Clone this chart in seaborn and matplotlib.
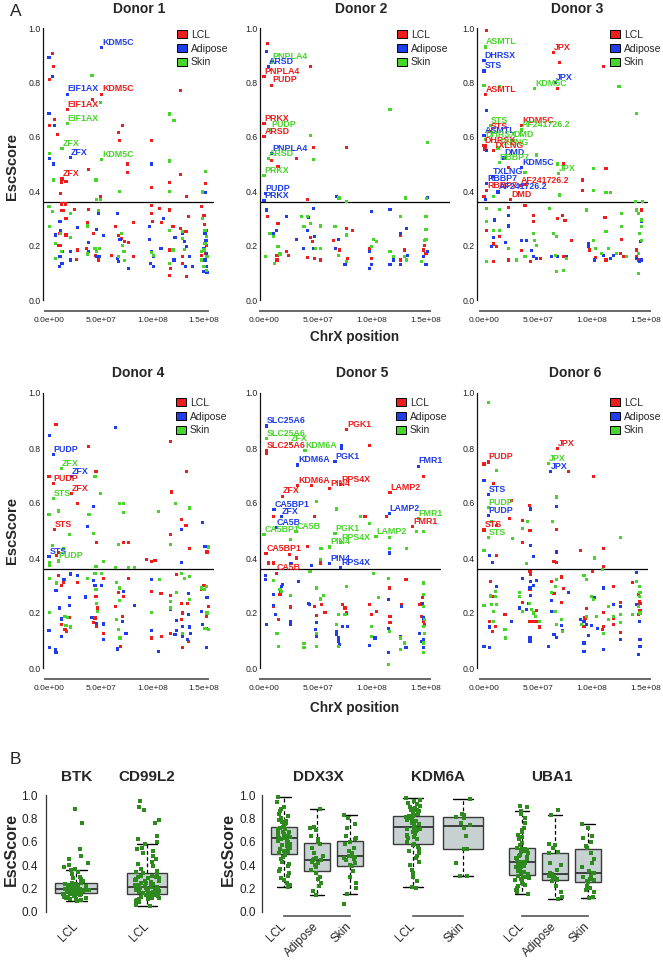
import numpy as np
import pandas as pd
import matplotlib
matplotlib.use("Agg")
import matplotlib.pyplot as plt
import seaborn as sns
from matplotlib.patches import Patch

# ---------------- DATA (panel A: position in Mb, EscScore) ----------------
TISSUES = ["LCL", "Adipose", "Skin"]
DONORS = ["Donor 1", "Donor 2", "Donor 3", "Donor 4", "Donor 5", "Donor 6"]
XTICKS_MB = [0, 50, 100, 150]
XTICK_LABELS = ["0.0e+00", "5.0e+07", "1.0e+08", "1.5e+08"]
YTICKS = [0.0, 0.2, 0.4, 0.6, 0.8, 1.0]
YTICK_LABELS = ["0.0", "0.2", "0.4", "0.6", "0.8", "1.0"]
THRESHOLD = 0.36

D1_LCL = [(3.5,.907),(4,.858),(0.3,.81),(5,.665),(0.3,.642),(8,.607),(12,.431),(10.7,.39),(16.5,.437),(42,.738),(38,.48),(50,.382),(67,.616),(71,.642),(68,.585),(76,.5),(76,.47),(99,.585),(99,.413),(117,.433),(127,.77),(127,.461),(133,.38),(151.5,.427),
          (12,.353),(12,.328),(14,.328),(16,.353),(16.5,.30),(10.6,.245),(9.4,.202),(11,.202),(13,.178),(6,.153),(16.5,.239),(25,.333),(27,.15),(27.4,.184),(37,.286),(38,.333),(36.5,.19),(43.5,.245),(48,.147),(45,.165),(60.6,.165),(64,.27),(67,.236),(70,.227),(73.5,.214),(77,.21),(81.6,.284),(82,.159),(99,.346),(99,.319),(100,.288),(107,.337),(109,.284),(117,.331),(116.5,.184),(118,.116),(117,.09),(120,.27),(127.7,.263),(129,.159),(129,.135),(132.6,.251),(133,.086),(135,.306),(148,.343),(150,.312),(150.6,.276),(152,.257),(152.6,.202),(151.6,.172),(150,.147),(147.7,.165)]
D1_ADI = [(0,.892),(3.5,.822),(0,.685),(5,.642),(0.3,.52),(4,.5),(99,.5),(151.5,.395),
          (10.6,.288),(11,.257),(6,.239),(10.6,.159),(10,.123),(12.6,.135),(21,.147),(21,.178),(27.4,.267),(38,.212),(38,.178),(46,.26),(48,.319),(46,.159),(48.7,.159),(52.6,.236),(66.5,.319),(68.7,.223),(66,.153),(67,.141),(76.8,.116),(97.7,.27),(97.7,.223),(99,.178),(101,.159),(98,.135),(101,.123),(110.6,.30),(108.4,.19),(122,.23),(121,.147),(129,.245),(131,.214),(133,.196),(136,.159),(139,.123),(132,.123),(151,.245),(152,.22),(150,.19),(152.6,.172),(151.6,.147),(152.6,.123),(150,.104),(153,.10)]
D1_SKN = [(41.6,.827),(50,.725),(0.3,.54),(4,.441),(45.5,.441),(46,.37),(50,.371),(68,.398),(117,.684),(121,.66),(117,.511),(117,.398),(148.7,.397),(151.5,.472),
          (0,.343),(0.3,.27),(3.5,.325),(6,.208),(6,.153),(11,.245),(12,.178),(21,.319),(21,.23),(37,.272),(37,.169),(44.5,.19),(46,.178),(48,.328),(49,.19),(67,.159),(70,.245),(71,.202),(72.6,.178),(73.5,.145),(99,.174),(101,.162),(117,.257),(117,.135),(120,.184),(129,.251),(129,.227),(131,.186),(148.7,.30),(151,.257),(152.6,.235),(151,.208),(150,.184),(153,.159),(147.7,.147),(150,.123),(152.6,.11),(147.7,.178)]
D1_LABELS = [("KDM5C","Adipose",51,.929),("EIF1AX","Adipose",17.7,.757),("KDM5C","LCL",51,.757),("EIF1AX","LCL",17.7,.699),("EIF1AX","Skin",17.7,.65),("ZFX","Skin",12.6,.556),("ZFX","Adipose",21,.523),("KDM5C","Skin",51,.515),("ZFX","LCL",12.6,.445)]

D2_LCL = [(3,.944),(43,.858),(46,.56),(30,.52),(13,.49),(7,.512),(40,.37),(76.5,.56),
          (3,.306),(13,.28),(12,.165),(12,.147),(21,.178),(22.6,.165),(40,.157),(45,.214),(43,.23),(47,.153),(52,.147),(64,.22),(70,.184),(76.5,.263),(82,.254),(77,.153),(98,.19),(99.7,.153),(126,.239),(126,.147),(130.5,.184),(148,.184),(150,.172),(149,.202)]
D2_ADI = [(2.5,.913),(67,.38),(151,.378),
          (2.5,.331),(8.6,.245),(11.7,.257),(21,.306),(30,.223),(36.4,.19),(40,.257),(41,.304),(45.7,.337),(47,.233),(46,.19),(66,.19),(69,.223),(75,.131),(97.5,.178),(99.7,.325),(97.5,.116),(99.7,.132),(116.7,.333),(116.7,.129),(120,.147),(126,.129),(126,.245),(132,.263),(132.7,.162),(148,.159),(150,.129),(150.6,.306),(151,.178)]
D2_SKN = [(43,.604),(45.7,.518),(116.7,.702),(151,.58),(69.4,.375),(76,.362),(131,.375),(150.6,.374),
          (1,.159),(5.6,.245),(8.6,.233),(10,.135),(13,.196),(14.8,.169),(34.9,.306),(37,.27),(40,.306),(43,.28),(48,.19),(52,.19),(52.5,.272),(65.7,.27),(69,.165),(76,.239),(76.5,.141),(99.7,.196),(101,.223),(104,.214),(116.7,.178),(120,.159),(126,.306),(130.5,.159),(132,.147),(146,.141),(150,.306),(150,.26),(150,.223),(149,.218)]
D2_LABELS = [("PNPLA4","Skin",7,.875),("ARSD","Adipose",4,.858),("PNPLA4","LCL",0,.822),("PUDP","LCL",7,.79),("PRKX","LCL",0,.648),("PUDP","Skin",6,.627),("ARSD","LCL",0,.60),("PNPLA4","Adipose",7,.539),("ARSD","Skin",4,.52),("PRKX","Skin",0,.457),("PUDP","Adipose",1,.392),("PRKX","Adipose",0,.365)]

D3_LCL = [(2.5,.99),(70,.873),(68,.778),(111,.858),(74,.5),(113,.483),(91,.441),(91,.404),(38,.425),(22.5,.487),(0.9,.567),(0.9,.555),(0,.38),
          (2.5,.257),(9,.206),(11.7,.196),(14,.233),(22.5,.34),(22.5,.147),(8.6,.141),(35,.181),(38,.349),(45.7,.288),(46,.312),(43,.141),(52,.153),(68,.30),(73,.312),(75,.292),(74,.159),(81,.22),(97.5,.184),(103,.157),(112,.304),(113,.147),(126,.172),(127.5,.223),(129,.159),(146,.331),(141,.159),(143,.147),(141,.184)]
D3_ADI = [(2.5,.698),(2.5,.551),(1,.368),
          (10,.294),(9,.23),(7,.196),(22.5,.312),(22.5,.272),(20,.211),(35,.22),(39.5,.22),(44,.181),(45.7,.159),(49,.153),(62.6,.159),(68,.159),(76.5,.159),(96.6,.208),(96.6,.198),(102,.147),(111,.162),(117,.153),(120,.162),(141,.153),(144,.141),(146,.147),(146,.288),(145,.214)]
D3_SKN = [(0,.787),(14,.786),(125,.786),(141,.686),(101,.483),(101,.402),(113,.395),(117,.395),(70,.386),(8.6,.38),(27,.586),(140,.362),(147,.362),(49,.533),(38,.469),(68,.5),
          (2,.337),(2.5,.288),(8.6,.257),(14,.333),(14,.257),(2.5,.141),(22.5,.19),(30,.147),(38,.159),(45.7,.245),(47,.22),(49,.202),(61,.337),(64,.245),(67,.233),(66.6,.165),(67,.104),(74,.11),(76,.153),(95,.331),(101,.22),(103,.19),(109,.172),(113,.251),(115,.19),(123,.172),(127.5,.319),(127.5,.27),(132,.159),(141,.331),(142.9,.319),(146,.294),(144,.245),(143,.172),(143,.098),(146,.27),(146,.22)]
D3_LABELS = [("ASMTL","Skin",1,.93),("DHRSX","Adipose",0,.88),("STS","Adipose",0,.842),("JPX","LCL",64,.909),("JPX","Adipose",66,.80),("KDM5C","Skin",47,.777),("ASMTL","LCL",1,.755),("STS","Skin",6,.64),("KDM5C","LCL",35,.642),("AF241726.2","Skin",35,.625),("STS","LCL",5.6,.62),("ASMTL","Adipose",0,.604),("DHRSX","Skin",1,.589),("DMD","Skin",27,.588),("DHRSX","LCL",0,.569),("TXLNG","Skin",13,.559),("TXLNG","LCL",8.6,.55),("DMD","Adipose",18.5,.522),("RBBP7","Skin",14,.504),("KDM5C","Adipose",35,.486),("JPX","Skin",69,.466),("TXLNG","Adipose",8,.455),("RBBP7","Adipose",2.5,.428),("AF241726.2","LCL",34,.42),("RBBP7","LCL",2.5,.403),("AF241726.2","Adipose",13,.397),("DMD","LCL",24.7,.37)]

D4_LCL = [(6.8,.885),(0,.695),(38,.806),(45.5,.713),(27.4,.598),(46,.455),(72,.455),(77,.457),(94.5,.394),(99,.388),(102.6,.391),(117.7,.824),(118.7,.64),(117.7,.485),(128.4,.539),(132.6,.518),(133,.715),(135.8,.434),(153,.422),(9,.42),(7.4,.408),
          (9,.336),(14.5,.321),(12,.30),(14,.312),(27.4,.312),(12,.158),(15.5,.139),(17,.133),(20,.185),(45.5,.26),(46,.236),(46.8,.218),(44.5,.182),(43.5,.164),(46,.152),(53,.125),(53,.327),(64,.224),(67,.273),(72,.26),(71,.188),(69,.079),(77,.327),(99,.279),(99,.109),(108.4,.27),(109,.113),(117.7,.263),(117.7,.127),(123,.339),(128.4,.236),(129.4,.2),(128.4,.176),(129.4,.073),(134,.236),(135,.097),(147.7,.287),(150,.30),(154,.224),(152.6,.188)]
D4_ADI = [(0.3,.845),(37,.515),(43.5,.588),(64,.873),(128.4,.503),(128.4,.384),(149,.53),(151,.442),
          (0,.136),(0.3,.075),(6,.067),(6.8,.055),(6.8,.282),(10,.218),(12,.178),(12,.115),(14,.321),(21,.342),(20,.255),(20,.228),(27.4,.336),(35,.258),(43,.319),(44.5,.30),(51,.30),(41,.185),(46,.161),(53,.16),(53,.103),(66,.069),(72,.279),(74.5,.127),(71,.17),(83,.228),(99,.321),(99,.136),(105.8,.061),(117.7,.212),(123,.173),(123,.137),(122,.121),(129.4,.115),(129.4,.152),(135,.27),(135,.194),(135.8,.149),(137,.127),(134,.103),(147.7,.206),(149,.158),(152.6,.145),(153,.255),(152.6,.076)]
D4_SKN = [(0,.558),(3.5,.447),(9,.571),(20,.485),(14,.436),(38.7,.558),(43,.488),(44.5,.695),(50,.633),(68,.598),(72,.598),(72,.566),(67,.448),(52.6,.388),(45.5,.37),(64,.366),(77,.366),(83,.366),(105.8,.57),(122.6,.598),(117.7,.448),(135.8,.582),(154,.44),(0.3,.373),(0.3,.384),
          (0.3,.327),(0.3,.202),(7.4,.309),(15.5,.188),(17.7,.185),(16.5,.154),(21,.149),(37,.327),(44.5,.345),(45.5,.285),(46,.236),(46.8,.206),(51,.345),(65.5,.312),(68,.291),(68,.246),(65.5,.176),(67,.139),(68.7,.109),(99,.202),(107,.321),(117.7,.242),(117.7,.218),(123,.273),(128.4,.345),(131.6,.324),(135.8,.333),(129.4,.127),(135.8,.248),(147.7,.291),(150,.285),(152.6,.297),(153,.2),(151,.145),(154,.139)]
D4_LABELS = [("PUDP","Adipose",4,.775),("ZFX","Skin",12,.725),("ZFX","Adipose",22,.695),("PUDP","LCL",4,.67),("ZFX","LCL",22,.634),("STS","Skin",4,.617),("STS","LCL",5,.504),("STS","Adipose",0,.406),("PUDP","Skin",9,.389)]

D5_LCL = [(2.5,.782),(9,.552),(16,.552),(30,.40),(40,.442),(47,.552),(52,.382),(97.5,.808),(93.5,.552),(113.6,.552),(148,.695),(24,.412),(8.6,.382),(4,.382),(44,.664),
          (14.8,.267),(15.4,.276),(8.6,.224),(13.5,.176),(24.7,.222),(47,.224),(48.8,.19),(53,.23),(56.5,.202),(73,.23),(75,.218),(76.5,.2),(98,.23),(99.7,.194),(104,.206),(116,.291),(116.7,.188),(116.7,.164),(127.5,.23),(131.5,.321),(144.4,.23),(146,.236),(147,.255),(146,.188),(148,.17),(149,.158)]
D5_ADI = [(72,.808),(72,.80),(116,.418),(25,.38),(44,.373),
          (2.5,.158),(8.6,.267),(9,.228),(11,.194),(16,.297),(17,.303),(24.7,.17),(24.7,.158),(32,.315),(41,.234),(42,.23),(48.8,.166),(48,.139),(48.8,.115),(67.3,.133),(69,.109),(70,.085),(69,.097),(67.3,.121),(73,.152),(77,.152),(98,.081),(102.8,.109),(115,.145),(115,.055),(115,.248),(126,.115),(127.5,.224),(131.5,.073),(144,.127),(148,.103),(146,.097),(148,.073),(148,.182),(147,.236),(1.8,.336),(1.8,.321)]
D5_SKN = [(48.8,.606),(67.3,.578),(52.8,.436),(89,.552),(98,.527),(132,.433),(116,.476),(116,.433),(141,.497),(148,.497),(24.7,.467),(52.5,.394),
          (9,.319),(14.8,.285),(16,.279),(12,.127),(13.5,.079),(24.7,.263),(37,.088),(37,.073),(48.8,.079),(48.8,.127),(48.8,.291),(52.5,.251),(55.5,.263),(67.3,.158),(69,.194),(75,.194),(76.5,.297),(69,.079),(99.7,.152),(99.7,.115),(101,.345),(106,.255),(115,.327),(116,.133),(115,.012),(126,.109),(130.5,.091),(126,.067),(148,.309),(148,.267),(147.5,.224),(149,.176),(148,.152),(149,.127),(147.5,.091),(148,.055),(42.6,.352)]
D5_LABELS = [("SLC25A6","Adipose",2.5,.88),("SLC25A6","Skin",2.5,.834),("ZFX","Skin",24.7,.817),("SLC25A6","LCL",2.5,.789),("KDM6A","Skin",38,.791),("PGK1","LCL",76.5,.868),("PGK1","Adipose",65.7,.75),("KDM6A","Adipose",31,.738),("FMR1","Adipose",143,.734),("KDM6A","LCL",31,.663),("RPS4X","LCL",71,.668),("PIN4","LCL",61,.652),("ZFX","LCL",17.3,.625),("LAMP2","LCL",116.7,.639),("CA5BP1","Adipose",9.3,.576),("ZFX","Adipose",16.4,.552),("LAMP2","Adipose",116,.561),("FMR1","Skin",143,.544),("CA5B","Adipose",11.7,.511),("FMR1","LCL",137.7,.513),("CA5BP1","Skin",0,.485),("CA5B","Skin",29.6,.496),("PGK1","Skin",65.7,.49),("RPS4X","Skin",71,.455),("LAMP2","Skin",103.7,.479),("PIN4","Skin",61,.44),("CA5BP1","LCL",1.9,.415),("PIN4","Adipose",61,.38),("RPS4X","Adipose",71,.365),("CA5B","LCL",11.7,.345)]

D6_LCL = [(0,.742),(9,.67),(25.6,.608),(24,.543),(36,.536),(42.6,.50),(42,.591),(36,.457),(67.3,.503),(64.8,.388),(67.3,.384),(89,.428),(101,.695),(110.5,.433),(110.5,.37),(11.7,.408),(78,.713),(11.7,.519),
          (6,.313),(9,.26),(5,.17),(11,.152),(8,.133),(19.4,.194),(36,.239),(42.6,.352),(43,.339),(42.6,.285),(42,.234),(42.6,.17),(46,.17),(48.8,.21),(48.8,.17),(51,.149),(62.6,.315),(64.8,.27),(72,.331),(74,.288),(72,.239),(95,.215),(93.5,.182),(92.6,.152),(100.6,.35),(110.5,.203),(110.5,.152),(110,.139),(119.7,.295),(120,.182),(120,.158),(126,.239),(126,.13),(137.6,.312),(143,.267),(144,.242),(144.4,.236),(144.4,.21),(143,.194)]
D6_ADI = [(0,.682),(5,.41),(8,.384),(43,.578),(43,.447),(46,.404),(67.3,.588),(67.3,.422),
          (0,.079),(5,.073),(5,.149),(11.7,.297),(25.6,.17),(36,.327),(32.7,.218),(39.5,.212),(41,.236),(43,.315),(42.6,.291),(43,.263),(42.6,.109),(42.6,.097),(46,.30),(48.8,.318),(60,.079),(62.6,.245),(62.6,.206),(64.8,.121),(67.3,.112),(72,.154),(73,.137),(78,.273),(89.5,.176),(92.6,.17),(95,.158),(92.6,.091),(92.6,.061),(96.6,.118),(99.7,.154),(102,.255),(105,.145),(110.5,.291),(110.5,.067),(120,.23),(126,.224),(126.5,.103),(141,.348),(141,.23),(144,.17),(144.4,.103),(144.4,.079),(143,.048)]
D6_SKN = [(4,.964),(11.7,.719),(7,.533),(0,.427),(26.5,.47),(40,.533),(36,.506),(39.5,.38),(63.5,.533),(67.3,.622),(102,.40),(110,.358),(126,.473),
          (0,.227),(6,.262),(7,.23),(8.6,.206),(9,.17),(11,.279),(11,.26),(11.7,.23),(19.4,.139),(20,.109),(32.7,.276),(33,.26),(36,.206),(42,.236),(44,.212),(46,.2),(48,.188),(51,.17),(62.6,.276),(66.6,.295),(67.3,.321),(65.7,.206),(67.3,.158),(72,.176),(73,.133),(92.6,.336),(95,.321),(90.5,.158),(95,.188),(99.7,.261),(101,.248),(104,.188),(110.5,.127),(115,.224),(115,.176),(120,.188),(126,.194),(126,.164),(137.6,.193),(141,.315),(143,.224),(144,.297),(144.4,.273),(144.4,.2),(144,.261)]
D6_LABELS = [("JPX","LCL",68,.799),("PUDP","LCL",4,.749),("JPX","Skin",59.6,.743),("JPX","Adipose",61.7,.713),("STS","Adipose",4,.632),("PUDP","Skin",4,.583),("PUDP","Adipose",4,.553),("STS","LCL",0,.502),("STS","Skin",4,.475)]

# ---------------- DATA (panel B: EscScore per gene / tissue) ----------------
B_GENES = ["BTK", "CD99L2", "DDX3X", "KDM6A", "UBA1"]
BTK_LCL = [.095,.10,.105,.11,.115,.12,.12,.125,.13,.135,.14,.14,.145,.15,.15,.155,.155,.158,
           .16,.162,.165,.168,.17,.172,.175,.175,.178,.18,.182,.184,.186,.188,.19,.19,.191,.192,
           .195,.198,.20,.203,.205,.208,.21,.212,.215,.218,.22,.222,.225,.228,.23,.232,.234,.235,
           .24,.245,.25,.26,.27,.28,.29,.30,.32,.34,.357,.37,.38,.40,.42,.45,.48,.54,.76,.88]
CD99L2_LCL = [.05,.06,.07,.08,.09,.095,.10,.105,.11,.115,.12,.125,.13,.13,.135,.14,.14,.145,.148,.15,.152,
              .155,.158,.16,.163,.166,.17,.172,.175,.178,.18,.183,.186,.19,.192,.195,.198,.20,.202,.205,.207,.209,
              .212,.216,.22,.225,.23,.235,.24,.245,.25,.255,.26,.265,.27,.275,.28,.285,.29,.295,.30,.305,.31,
              .32,.33,.34,.35,.37,.39,.41,.43,.45,.48,.50,.52,.535,.55,.58,.60,.62,.65,.76,.79,.87,.90,.95]
DDX3X_LCL = [.21,.23,.25,.27,.29,.31,.33,.35,.37,.39,.41,.43,.45,.47,.49,
             .50,.51,.52,.53,.54,.55,.56,.57,.58,.59,.60,.61,.615,.62,.627,
             .63,.635,.64,.645,.65,.66,.665,.67,.68,.685,.69,.70,.705,.71,.72,
             .73,.74,.75,.76,.77,.78,.79,.80,.82,.84,.86,.88,.90,.94,.98]
DDX3X_ADI = [.14,.18,.22,.25,.28,.30,.33,.36,.38,.40,.42,.43,.44,.443,.45,.46,.48,.50,.55,.58,.60,.62,.65,.70,.72,.73,.88]
DDX3X_SKN = [.07,.15,.20,.25,.30,.35,.39,.40,.42,.44,.45,.46,.47,.477,.48,.50,.52,.55,.58,.60,.62,.63,.65,.72,.75,.80,.83]
KDM6A_LCL = [.20,.21,.26,.30,.33,.36,.40,.43,.46,.48,.50,.52,.54,.555,.568,
             .58,.60,.62,.63,.64,.65,.66,.67,.68,.69,.70,.705,.71,.715,.72,
             .725,.73,.74,.75,.76,.77,.78,.785,.79,.80,.805,.81,.815,.82,.822,
             .83,.84,.85,.86,.87,.875,.88,.89,.90,.91,.92,.93,.95,.96,.976]
KDM6A_SKN = [.305,.31,.42,.54,.54,.65,.72,.745,.76,.80,.81,.83,.84,.97]
UBA1_LCL = [.155,.17,.19,.20,.22,.23,.24,.25,.26,.27,.28,.29,.295,.30,.31,
            .32,.33,.34,.35,.36,.37,.38,.385,.39,.40,.405,.41,.415,.418,.42,
            .425,.43,.44,.45,.46,.47,.48,.49,.50,.51,.52,.525,.53,.535,.54,
            .55,.57,.59,.62,.64,.66,.68,.70,.72,.76,.80,.84,.867,.90,.91]
UBA1_ADI = [.113,.13,.17,.22,.26,.27,.28,.29,.30,.31,.31,.32,.33,.36,.40,.42,.50,.51,.55,.57,.58,.828,.87]
UBA1_SKN = [.116,.13,.17,.19,.20,.22,.257,.26,.27,.28,.30,.31,.328,.33,.35,.38,.42,.45,.50,.55,.56,.60,.63,.65,.72,.75]

# ---------------- STYLE / LAYOUT ----------------
COLORS = {"LCL": "#EE1D1D", "Adipose": "#1F3DEA", "Skin": "#48D52B"}
STRIP_GREEN = "#2E8A1E"
BOX_FILL = "#C8D1D1"

sns.set_theme(style="white")
plt.rcParams['font.family'] = ['Liberation Sans', 'DejaVu Sans']

W, H = 663, 961
fig = plt.figure(figsize=(W / 100, H / 100), dpi=100)


def axes_px(l, t, r, b):
    return fig.add_axes([l / W, 1 - b / H, (r - l) / W, (b - t) / H])


def ftext(x, y, s, **kw):
    fig.text(x / W, 1 - y / H, s, **kw)


ROW_Y = [(28, 300), (393, 668)]                       # pixel of y=1 and y=0
COL_X = [(43, 49, 1.033), (260, 264, 1.08), (477, 484, 1.08)]  # spine px, x=0 px, px per Mb
XMAX = [160, 172, 152, 160, 164, 152]
TITLE_POS = [(139, 9), (361, 9), (577, 9), (138, 373), (362, 373), (575, 373)]
LEGEND_POS = [(177, 30), (397, 30), (610, 30), (176, 398), (396, 398), (610, 398)]

PANEL_DATA = [
    (D1_LCL, D1_ADI, D1_SKN, D1_LABELS),
    (D2_LCL, D2_ADI, D2_SKN, D2_LABELS),
    (D3_LCL, D3_ADI, D3_SKN, D3_LABELS),
    (D4_LCL, D4_ADI, D4_SKN, D4_LABELS),
    (D5_LCL, D5_ADI, D5_SKN, D5_LABELS),
    (D6_LCL, D6_ADI, D6_SKN, D6_LABELS),
]

for i, (lcl, adi, skn, labels) in enumerate(PANEL_DATA):
    r, c = divmod(i, 3)
    y1, y0 = ROW_Y[r]
    ppu = y0 - y1
    spine, x0, sc = COL_X[c]
    ax = axes_px(spine, y1 - 0.04 * ppu, x0 + XMAX[i] * sc, y0 + 0.04 * ppu)

    rows = []
    for tis, pts in zip(TISSUES, [lcl, adi, skn]):
        rows += [(tis, x * 1e6, y) for x, y in pts]
    rows += [(tis, x * 1e6, y) for _, tis, x, y in labels]
    df = pd.DataFrame(rows, columns=["tissue", "pos", "esc"])

    ax.axhline(THRESHOLD, color="black", lw=0.9, zorder=1)
    sns.scatterplot(data=df, x="pos", y="esc", hue="tissue", hue_order=TISSUES,
                    palette=COLORS, marker="s", s=5, linewidth=0, legend=False,
                    ax=ax, zorder=2)
    for gene, tis, x, y in labels:
        ax.annotate(gene, (x * 1e6, y), xytext=(0.3, 0.5), textcoords="offset points",
                    ha="left", va="bottom", fontsize=6.4, fontweight="bold",
                    color=COLORS[tis], zorder=3)

    ax.set_xlim(-(x0 - spine) / sc * 1e6, XMAX[i] * 1e6)
    ax.set_ylim(-0.04, 1.04)
    ax.set_xticks([v * 1e6 for v in XTICKS_MB])
    ax.set_xticklabels(XTICK_LABELS)
    ax.set_yticks(YTICKS)
    ax.set_yticklabels(YTICK_LABELS)
    ax.tick_params(axis="x", length=0, pad=4.5, labelsize=6.0, labelcolor="#222222")
    ax.tick_params(axis="y", length=0, pad=1.5, labelsize=6.3, labelcolor="#222222")
    ax.set_xlabel("")
    ax.set_ylabel("")
    for s in ["top", "right"]:
        ax.spines[s].set_visible(False)
    ax.spines["left"].set_bounds(0, 1)
    ax.spines["left"].set_color("#111111")
    ax.spines["left"].set_linewidth(0.9)
    ax.spines["bottom"].set_bounds(-4e6, 154e6)
    ax.spines["bottom"].set_color("#666666")
    ax.spines["bottom"].set_linewidth(1.4)
    ax.set_facecolor("none")

    handles = [Patch(facecolor=COLORS[t], edgecolor="black", linewidth=0.7, label=t) for t in TISSUES]
    lx, ly = LEGEND_POS[i]
    ax.legend(handles=handles, loc="upper left", bbox_to_anchor=(lx / W, 1 - ly / H),
              bbox_transform=fig.transFigure, frameon=False, fontsize=7.5,
              handlelength=1.0, handleheight=0.8, handletextpad=0.35,
              labelspacing=0.35, borderpad=0, borderaxespad=0)

    tx, ty = TITLE_POS[i]
    ftext(tx, ty, DONORS[i], ha="center", va="center", fontsize=10, fontweight="bold")

ftext(12, 167, "EscScore", rotation=90, ha="center", va="center", fontsize=10.5, fontweight="bold")
ftext(12, 530, "EscScore", rotation=90, ha="center", va="center", fontsize=10.5, fontweight="bold")
ftext(355, 337, "ChrX position", ha="center", va="center", fontsize=9.8, fontweight="bold")
ftext(355, 708, "ChrX position", ha="center", va="center", fontsize=9.8, fontweight="bold")
ftext(16, 11, "A", ha="center", va="center", fontsize=12.5)
ftext(15, 759, "B", ha="center", va="center", fontsize=12.5)

# ---------------- PANEL B ----------------
B_Y1, B_Y0 = 795, 911.7
bppu = B_Y0 - B_Y1
btop, bbot = B_Y1 - 0.04 * bppu, B_Y0 + 0.04 * bppu

# gene, categories, values, first-centre px, px per category, xlim left, xlim right, box width, y axis?, base line?, jitter, title x
B_PANELS = [
    ("BTK", ["LCL"], [BTK_LCL], 76, 60, -0.5, 0.5, 0.70, True, False, 0.22, 77),
    ("CD99L2", ["LCL"], [CD99L2_LCL], 147, 60, -0.5, 0.5, 0.67, False, False, 0.22, 147),
    ("DDX3X", ["LCL", "Adipose", "Skin"], [DDX3X_LCL, DDX3X_ADI, DDX3X_SKN], 284, 33, -0.667, 2.5, 0.79, True, True, 0.2, 318),
    ("KDM6A", ["LCL", "Skin"], [KDM6A_LCL, KDM6A_SKN], 413, 50, -0.5, 1.5, 0.80, False, True, 0.15, 438),
    ("UBA1", ["LCL", "Adipose", "Skin"], [UBA1_LCL, UBA1_ADI, UBA1_SKN], 522, 33, -0.5, 2.5, 0.79, False, True, 0.2, 552),
]

np.random.seed(3)
for gene, cats, vals, c0, sc, xl, xr, bw, showy, baseline, jit, tx in B_PANELS:
    left = c0 + xl * sc
    right = c0 + xr * sc
    ax = axes_px(left, btop, right, bbot)
    rows = []
    for cat, v in zip(cats, vals):
        rows += [(cat, e) for e in v]
    df = pd.DataFrame(rows, columns=["tissue", "esc"])
    sns.boxplot(data=df, x="tissue", y="esc", order=cats, width=bw, color=BOX_FILL,
                saturation=1, linecolor="#3A3A3A", linewidth=1.0, showfliers=False,
                whiskerprops=dict(linestyle=(0, (3, 2)), color="black", linewidth=0.9),
                capprops=dict(color="black", linewidth=1.0),
                medianprops=dict(color="#333333", linewidth=1.3), ax=ax)
    sns.stripplot(data=df, x="tissue", y="esc", order=cats, color=STRIP_GREEN,
                  marker="s", size=2.4, jitter=jit, linewidth=0, ax=ax, zorder=4)
    ax.set_xlim(xl, xr)
    ax.set_ylim(-0.04, 1.04)
    ax.set_xlabel("")
    ax.set_ylabel("")
    ax.set_xticks(range(len(cats)))
    ax.set_xticklabels(cats, rotation=45, ha="right", va="center", rotation_mode="anchor", fontsize=8.5)
    ax.tick_params(axis="x", length=0, pad=6)
    ax.set_yticks(YTICKS)
    ax.set_yticklabels(YTICK_LABELS)
    ax.tick_params(axis="y", length=0, pad=6 if gene == "BTK" else 4.5, labelsize=8.5, labelcolor="#222222")
    for s in ["top", "right"]:
        ax.spines[s].set_visible(False)
    if showy:
        ax.spines["left"].set_bounds(0, 1)
        ax.spines["left"].set_color("#333333")
        ax.spines["left"].set_linewidth(0.9)
    else:
        ax.spines["left"].set_visible(False)
        ax.tick_params(axis="y", labelleft=False)
    if baseline:
        ax.spines["bottom"].set_bounds(0, len(cats) - 1)
        ax.spines["bottom"].set_color("#555555")
        ax.spines["bottom"].set_linewidth(1.2)
    else:
        ax.spines["bottom"].set_visible(False)
    ax.set_facecolor("none")
    ftext(tx, 777, gene, ha="center", va="center", fontsize=11, fontweight="bold")

ftext(11, 850, "EscScore", rotation=90, ha="center", va="center", fontsize=11.5, fontweight="bold")
ftext(228, 850, "EscScore", rotation=90, ha="center", va="center", fontsize=11.5, fontweight="bold")

fig.savefig("out.png", dpi=100)
